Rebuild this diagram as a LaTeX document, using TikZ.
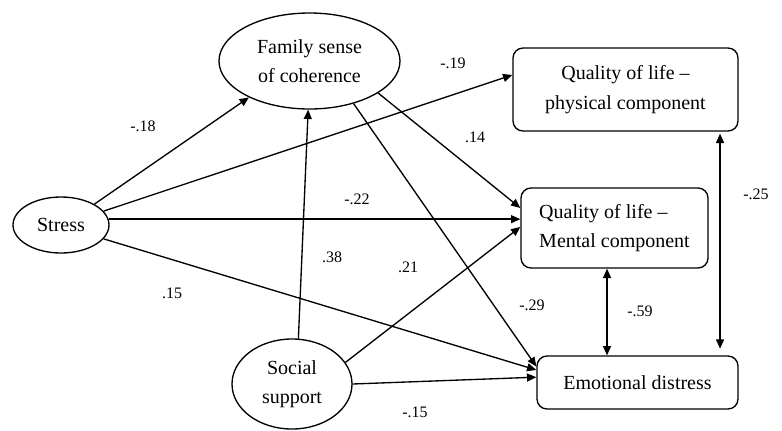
\documentclass[tikz,border=0pt]{standalone}
\usepackage{fontspec}
\setmainfont{Liberation Serif}
\usetikzlibrary{arrows.meta,shapes.geometric}
\begin{document}
\begin{tikzpicture}[x=0.75pt,y=-0.75pt,
  every node/.style={inner sep=0pt},
  ell/.style={draw,ellipse,line width=1pt,align=center,font=\fontsize{15}{22}\selectfont},
  box/.style={draw,rectangle,rounded corners=7.5pt,line width=1pt,font=\fontsize{15}{22}\selectfont},
  lab/.style={font=\fontsize{12}{14}\selectfont},
  conn/.style={line width=1pt,-{Triangle[length=7pt,width=6pt]}},
  dconn/.style={line width=1pt,{Triangle[length=7pt,width=6pt]}-{Triangle[length=7pt,width=6pt]}}]
\useasboundingbox (0,0) rectangle (782,430);
% nodes
\node[ell,minimum width=72pt,minimum height=42pt] (stress) at (61,225) {Stress};
\node[ell,minimum width=135.75pt,minimum height=72pt] (fsc) at (309.5,61) {Family sense\\of coherence};
\node[ell,minimum width=90pt,minimum height=67.5pt] (ss) at (292,384) {Social\\support};
\node[box,minimum width=168.75pt,minimum height=62.25pt,align=center] (phys) at (625.5,89.5) {Quality of life --\\physical component};
\node[box,minimum width=140.25pt,minimum height=60pt,align=left] (ment) at (614.5,228) {Quality of life --\\Mental component};
\node[box,minimum width=150.75pt,minimum height=39.75pt] (ed) at (637.5,382.5) {Emotional distress};
% connectors
\draw[conn] (stress.32) -- (fsc.211);
\draw[conn] (stress.18) -- ([yshift=10.9pt]phys.west);
\draw[conn] (stress.7) -- (stress.7 -| ment.west);
\draw[conn] (stress.-18) -- ([yshift=9.4pt]ed.west);
\draw[conn] (fsc.335) -- ([yshift=15pt]ment.west);
\draw[conn] (fsc.316) -- ([yshift=12pt]ed.west);
\draw[conn] (ss.82) -- ([xshift=-1pt]fsc.south);
\draw[conn] (ss.22.5) -- ([yshift=0.8pt]ment.west);
\draw[conn] (ss.east) -- ([yshift=4pt]ed.west);
\draw[dconn] ([xshift=-5.6pt]ment.south) -- ([xshift=-5.6pt]ment.south |- ed.north);
\draw[dconn,shorten <=1.5pt,shorten >=5pt] ([xshift=70.9pt]phys.south) -- ([xshift=70.9pt]phys.south |- ed.north);
% labels
\node[lab] (l1) at (143,126) {-.18};
\node[lab] (l2) at (453,63) {-.19};
\node[lab] (l3) at (475,137) {.14};
\node[lab] (l4) at (357,199) {-.22};
\node[lab] (l5) at (332,257) {.38};
\node[lab] (l6) at (408,267) {.21};
\node[lab] (l7) at (172,293) {.15};
\node[lab] (l8) at (532,305) {-.29};
\node[lab] (l9) at (640,311) {-.59};
\node[lab] (l10) at (756,194) {-.25};
\node[lab] (l11) at (415,412) {-.15};
\end{tikzpicture}
\end{document}
